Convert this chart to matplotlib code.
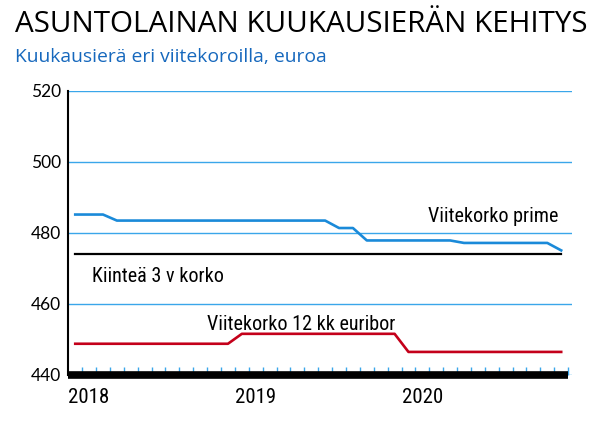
import matplotlib
matplotlib.use("Agg")
import matplotlib.pyplot as plt
from matplotlib import font_manager
import numpy as np

# monthly values, Jan 2018 - Dec 2020
months = np.arange(36) + 0.5
prime = [485.2] * 3 + [483.5] * 16 + [481.4] * 2 + [477.9] * 7 + [477.2] * 7 + [475.1]
fixed_3y = [474.0] * 36
euribor_12 = [448.8] * 12 + [451.6] * 12 + [446.5] * 12
years = ["2018", "2019", "2020"]
year_pos = [0, 12, 24]
yticks = [440, 460, 480, 500, 520]

BLUE = "#1a8ad9"
GRID = "#3aa6ea"
RED = "#c4001a"

# pick a narrow font if there is one
names = {f.name for f in font_manager.fontManager.ttflist}
cond = None
stretch = "normal"
for cand in ["Roboto Condensed", "Liberation Sans Narrow", "DejaVu Sans Condensed",
             "Open Sans Condensed", "Noto Sans Condensed"]:
    if cand in names:
        cond = cand
        break
if cond is None:
    cands = [f for f in font_manager.fontManager.ttflist
             if f.name == "DejaVu Sans" and "ondensed" in f.fname]
    if cands:
        cond, stretch = "DejaVu Sans", "condensed"
    else:
        cond = "Roboto"
COND = [cond, "DejaVu Sans"]

fig = plt.figure(figsize=(6, 4.38), dpi=100)
ax = fig.add_axes([68.3 / 600, 1 - 375 / 438, 504 / 600, 284 / 438])

ax.plot(months, prime, color=BLUE, lw=1.9, zorder=3)
ax.plot(months, fixed_3y, color="black", lw=1.6, zorder=3)
ax.plot(months, euribor_12, color=RED, lw=1.9, zorder=3)

ax.set_xlim(0, 36.3)
ax.set_ylim(440, 520)
ax.set_yticks(yticks)
ax.set_yticklabels([str(v) for v in yticks], family="Lato", fontsize=12.5)
ax.yaxis.grid(True, color=GRID, lw=1.0)
ax.tick_params(axis="y", length=0, pad=5)

ax.set_xticks(year_pos)
ax.set_xticklabels(years, family=COND, stretch=stretch, fontsize=15, ha="left")
ax.set_xticks(np.arange(1, 37), minor=True)
ax.xaxis.remove_overlapping_locs = False
ax.tick_params(axis="x", which="major", length=0, pad=9.5)
ax.tick_params(axis="x", which="minor", direction="in", length=5.5, width=1, color=GRID)

for s in ["top", "right"]:
    ax.spines[s].set_visible(False)
ax.spines["left"].set_linewidth(1.5)
ax.spines["bottom"].set_linewidth(5.5)
ax.spines["bottom"].set_bounds(0, 36)
ax.spines["bottom"].set_capstyle("butt")

labels = [
    ax.text(35.3, 483.2, "Viitekorko prime", ha="right"),
    ax.text(1.7, 466.3, "Kiinteä 3 v korko", ha="left"),
    ax.text(10.0, 452.6, "Viitekorko 12 kk euribor", ha="left"),
]
for t in labels:
    t.set_family(COND)
    t.set_stretch(stretch)
    t.set_fontsize(14.5)
    t.set_va("baseline")

title = fig.text(15 / 600, 1 - 31.7 / 438, "ASUNTOLAINAN KUUKAUSIERÄN KEHITYS",
                 family="Open Sans", fontsize=18, va="baseline", ha="left")
sub = fig.text(15 / 600, 1 - 61.7 / 438, "Kuukausierä eri viitekoroilla, euroa",
               family="Open Sans", fontsize=13, color="#1668bd", va="baseline", ha="left")

# fit title / subtitle widths to the reference
r = fig.canvas.get_renderer()
for t, w in [(title, 575), (sub, 309)]:
    cur = t.get_window_extent(r).width
    t.set_fontsize(t.get_fontsize() * w / cur)

fig.savefig("out.png", dpi=100)
